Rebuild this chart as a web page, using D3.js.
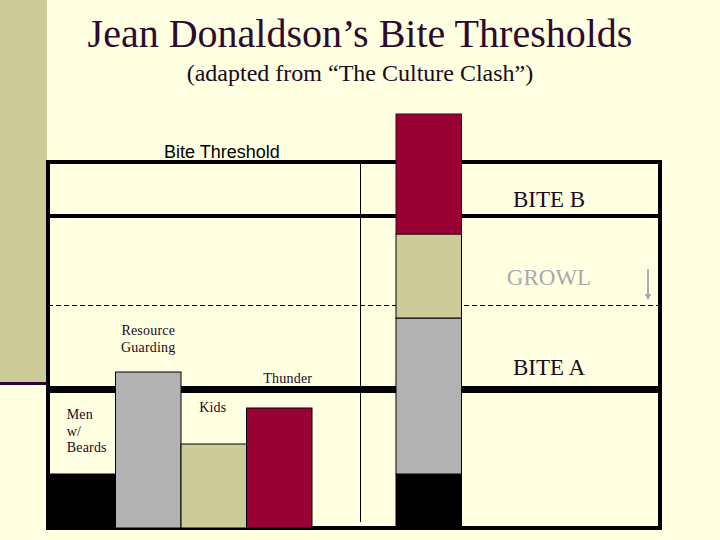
<!DOCTYPE html>
<html>
<head>
<meta charset="utf-8">
<script src="https://cdn.jsdelivr.net/npm/d3@7"></script>
<style>
  html, body { margin: 0; padding: 0; background: #FFFFE1; }
  svg { display: block; }
</style>
</head>
<body>
<script>
// ---- data ----
const titleText = "Jean Donaldson’s Bite Thresholds";
const subtitleText = "(adapted from “The Culture Clash”)";
const categories = ["Men w/ Beards", "Resource Guarding", "Kids", "Thunder"];
const stressValues = [5.4, 15.6, 8.4, 12.0];
const barColors = ["#000000", "#B2B2B2", "#CCCC99", "#990033"];
const thresholdName = "Bite Threshold";
const thresholdValue = 36.6;
const zoneLineValues = [31.2, 22.25, 13.85, 0];
const zoneLabels = ["BITE B", "GROWL", "BITE A"];
const zoneLabelColors = ["#1a0a1a", "#aaaaaa", "#1a0a1a"];

// ---- layout ----
const W = 720, H = 540;
const svg = d3.select("body").append("svg").attr("width", W).attr("height", H);
const serif = "'Liberation Serif', 'Times New Roman', serif";
const sans = "'Liberation Sans', Arial, sans-serif";

svg.append("rect").attr("width", W).attr("height", H).attr("fill", "#FFFFE1");
// left decorative strip
svg.append("rect").attr("x", 0).attr("y", 0).attr("width", 47).attr("height", 382).attr("fill", "#CCCC99");
svg.append("rect").attr("x", 0).attr("y", 382).attr("width", 47).attr("height", 3).attr("fill", "#330033");

const y = d3.scaleLinear().domain([0, 42]).range([528, 108]);
const x = d3.scaleBand().domain(categories).range([50, 312]).padding(0);
const totalX = 396;
const bw = x.bandwidth();
const frameLeft = 48, frameRight = 660;

// title
svg.append("text").attr("x", 360).attr("y", 47).attr("text-anchor", "middle")
  .attr("font-family", serif).attr("font-size", 40).attr("fill", "#2e0a2e").text(titleText);
svg.append("text").attr("x", 360).attr("y", 81).attr("text-anchor", "middle")
  .attr("font-family", serif).attr("font-size", 24).attr("fill", "#1a0a1a").text(subtitleText);

// frame
const lines = svg.append("g");
lines.append("line").attr("x1", frameLeft - 2).attr("x2", frameRight + 2)
  .attr("y1", y(thresholdValue)).attr("y2", y(thresholdValue))
  .attr("stroke", "#000").attr("stroke-width", 4);
const zoneStyles = [
  {w: 4, dash: null}, {w: 1, dash: "5,3"}, {w: 7, dash: null}, {w: 4, dash: null}
];
zoneLineValues.forEach((v, i) => {
  lines.append("line").attr("x1", frameLeft).attr("x2", frameRight)
    .attr("y1", y(v)).attr("y2", y(v))
    .attr("stroke", "#000").attr("stroke-width", zoneStyles[i].w)
    .attr("stroke-dasharray", zoneStyles[i].dash);
});
lines.append("line").attr("x1", frameLeft).attr("x2", frameLeft)
  .attr("y1", y(thresholdValue) - 2).attr("y2", y(0) + 2).attr("stroke", "#000").attr("stroke-width", 4);
lines.append("line").attr("x1", frameRight).attr("x2", frameRight)
  .attr("y1", y(thresholdValue) - 2).attr("y2", y(0) + 2).attr("stroke", "#000").attr("stroke-width", 4);
// thin vertical marker
lines.append("line").attr("x1", 360.5).attr("x2", 360.5)
  .attr("y1", y(thresholdValue) + 2).attr("y2", y(0) - 6).attr("stroke", "#000").attr("stroke-width", 1);

// individual bars
svg.append("g").selectAll("rect").data(categories).join("rect")
  .attr("x", d => x(d)).attr("width", bw)
  .attr("y", (d, i) => y(stressValues[i]))
  .attr("height", (d, i) => y(0) - y(stressValues[i]))
  .attr("fill", (d, i) => barColors[i])
  .attr("stroke", "#000").attr("stroke-width", 1);

// stacked total bar
let acc = 0;
const stack = stressValues.map((v, i) => { const s = {y0: acc, y1: acc + v, c: barColors[i]}; acc += v; return s; });
svg.append("g").selectAll("rect").data(stack).join("rect")
  .attr("x", totalX).attr("width", bw)
  .attr("y", d => y(d.y1)).attr("height", d => y(d.y0) - y(d.y1))
  .attr("fill", d => d.c).attr("stroke", d => d.c === "#990033" ? "#4a0018" : "#000").attr("stroke-width", 1);

// threshold label
svg.append("text").attr("x", 164).attr("y", y(thresholdValue) - 4)
  .attr("font-family", sans).attr("font-size", 18).attr("fill", "#000").text(thresholdName);

// zone labels
const zoneLabelDy = [-9.5, -20.5, -14.5];
zoneLabels.forEach((t, i) => {
  svg.append("text").attr("x", 549).attr("y", y(zoneLineValues[i]) + zoneLabelDy[i])
    .attr("text-anchor", "middle").attr("font-family", serif).attr("font-size", 23)
    .attr("fill", zoneLabelColors[i]).text(t);
});

// growl arrow
svg.append("line").attr("x1", 648).attr("x2", 648).attr("y1", 269).attr("y2", 296)
  .attr("stroke", "#aaaaaa").attr("stroke-width", 2);
svg.append("path").attr("d", "M644.5,294 L651.5,294 L648,300 Z").attr("fill", "#aaaaaa");

// bar labels
const labelLayout = [
  {anchor: "start", dx: 16.7 - bw / 2, dy: -55},
  {anchor: "middle", dx: 0, dy: -37},
  {anchor: "middle", dx: -1, dy: -32},
  {anchor: "middle", dx: 8.5, dy: -25}
];
categories.forEach((c, i) => {
  const L = labelLayout[i];
  const t = svg.append("text").attr("font-family", serif).attr("font-size", 14)
    .attr("fill", "#1a0a1a").attr("text-anchor", L.anchor).attr("letter-spacing", 0.2);
  const cx = x(c) + bw / 2 + L.dx;
  const top = y(stressValues[i]) + L.dy;
  c.split(" ").forEach((w, j) => {
    t.append("tspan").attr("x", cx).attr("y", top + j * 16.5).text(w);
  });
});
</script>
</body>
</html>
